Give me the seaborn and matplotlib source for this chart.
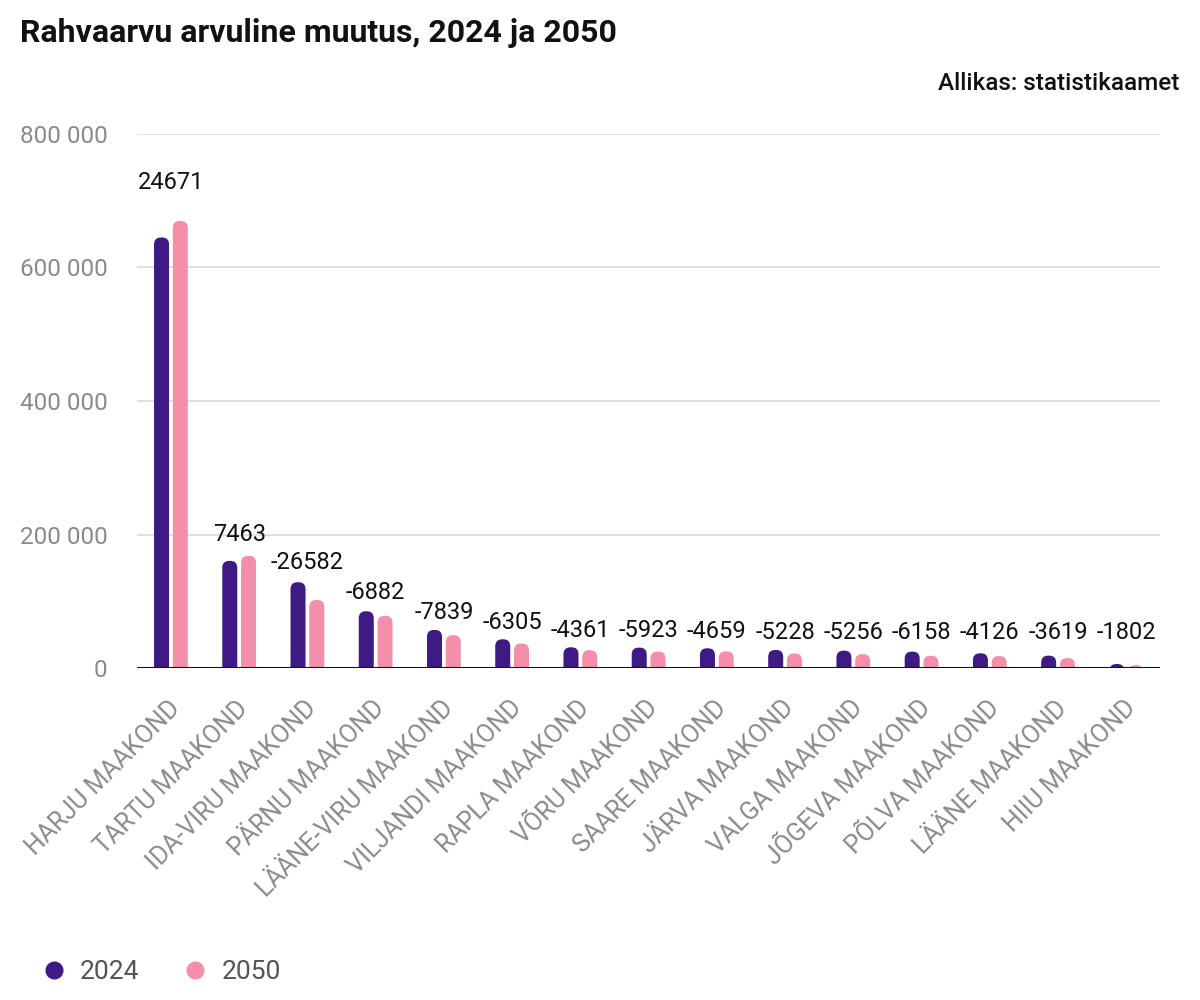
import matplotlib
matplotlib.use('Agg')
import matplotlib.pyplot as plt
from matplotlib.patches import FancyBboxPatch
from matplotlib.lines import Line2D
import matplotlib.ticker as mticker
import matplotlib.transforms as mtransforms
import pandas as pd
import seaborn as sns

# andmed (loetud pildilt)
maakonnad = ['HARJU MAAKOND', 'TARTU MAAKOND', 'IDA-VIRU MAAKOND', 'PÄRNU MAAKOND',
             'LÄÄNE-VIRU MAAKOND', 'VILJANDI MAAKOND', 'RAPLA MAAKOND', 'VÕRU MAAKOND',
             'SAARE MAAKOND', 'JÄRVA MAAKOND', 'VALGA MAAKOND', 'JÕGEVA MAAKOND',
             'PÕLVA MAAKOND', 'LÄÄNE MAAKOND', 'HIIU MAAKOND']
rahvaarv_2024 = [645000, 160500, 128500, 85000, 57000, 43000, 31000, 30500,
                 29500, 27000, 26000, 24500, 22000, 18500, 6000]
rahvaarv_2050 = [669671, 167963, 101918, 78118, 49161, 36695, 26639, 24577,
                 24841, 21772, 20744, 18342, 17874, 14881, 4198]
muutus = [24671, 7463, -26582, -6882, -7839, -6305, -4361, -5923,
          -4659, -5228, -5256, -6158, -4126, -3619, -1802]
aastad = ['2024', '2050']
varvid = ['#3f1a85', '#f48fab']

df = pd.DataFrame({
    'maakond': maakonnad * 2,
    'aasta': [aastad[0]] * len(maakonnad) + [aastad[1]] * len(maakonnad),
    'rahvaarv': rahvaarv_2024 + rahvaarv_2050,
})

sns.set_style('white')
plt.rcParams['font.family'] = ['Roboto', 'DejaVu Sans']

fig = plt.figure(figsize=(12, 10), dpi=100)
ax = fig.add_axes([0.114, 0.332, 0.853, 0.534])

sns.barplot(data=df, x='maakond', y='rahvaarv', hue='aasta', palette=varvid,
            saturation=1, width=0.55, gap=0.2, legend=False, ax=ax)

ax.set_ylim(0, 800000)
ax.set_xlim(-0.5, len(maakonnad) - 0.5)

# ümarad tulbad
for p in list(ax.patches):
    x, w, h = p.get_x(), p.get_width(), p.get_height()
    fc = p.get_facecolor()
    p.remove()
    ax.add_patch(FancyBboxPatch((x, -20000), w, h + 20000,
                                boxstyle='round,pad=0,rounding_size=0.1',
                                mutation_aspect=105000, fc=fc, ec='none', zorder=2))

# muutuse sildid
for i, m in enumerate(muutus):
    top = max(rahvaarv_2024[i], rahvaarv_2050[i])
    ax.annotate(str(m), (i, max(top * 1.05, 30000)), xytext=(0, 3),
                textcoords='offset points', ha='center', va='bottom',
                fontsize=17, color='#111111')

ax.yaxis.grid(True, color='#dddddd', lw=1.3)
ax.set_axisbelow(True)
ax.axhline(0, color='#111111', lw=2.2, zorder=3)
for s in ax.spines.values():
    s.set_visible(False)
ax.yaxis.set_major_locator(mticker.MultipleLocator(200000))
ax.yaxis.set_major_formatter(mticker.FuncFormatter(lambda v, _: f'{int(v):,}'.replace(',', ' ')))
ax.tick_params(axis='y', length=0, pad=21, labelsize=17.5, labelcolor='#8a8a8a')
ax.tick_params(axis='x', length=0, pad=18, labelsize=18, labelcolor='#8a8a8a')
nihe = mtransforms.ScaledTranslation(-3 / 100, -3 / 100, fig.dpi_scale_trans)
for lbl in ax.get_xticklabels():
    lbl.set_rotation(45)
    lbl.set_ha('right')
    lbl.set_rotation_mode('anchor')
    lbl.set_transform(lbl.get_transform() + nihe)
ax.set_xlabel('')
ax.set_ylabel('')

fig.text(0.017, 0.967, 'Rahvaarvu arvuline muutus, 2024 ja 2050', fontsize=23,
         fontweight='bold', ha='left', va='center', color='#111111')
fig.text(0.983, 0.917, 'Allikas: statistikaamet', fontsize=17.5, fontweight='medium',
         ha='right', va='center', color='#111111')

handles = [Line2D([], [], marker='o', ls='none', markersize=12, color=c) for c in varvid]
fig.legend(handles, aastad, loc='center left', bbox_to_anchor=(0.014, 0.028),
           frameon=False, ncol=2, fontsize=19, labelcolor='#555555',
           handlelength=1.0, handletextpad=0.5, columnspacing=1.6)

fig.savefig('out.png', dpi=100)
